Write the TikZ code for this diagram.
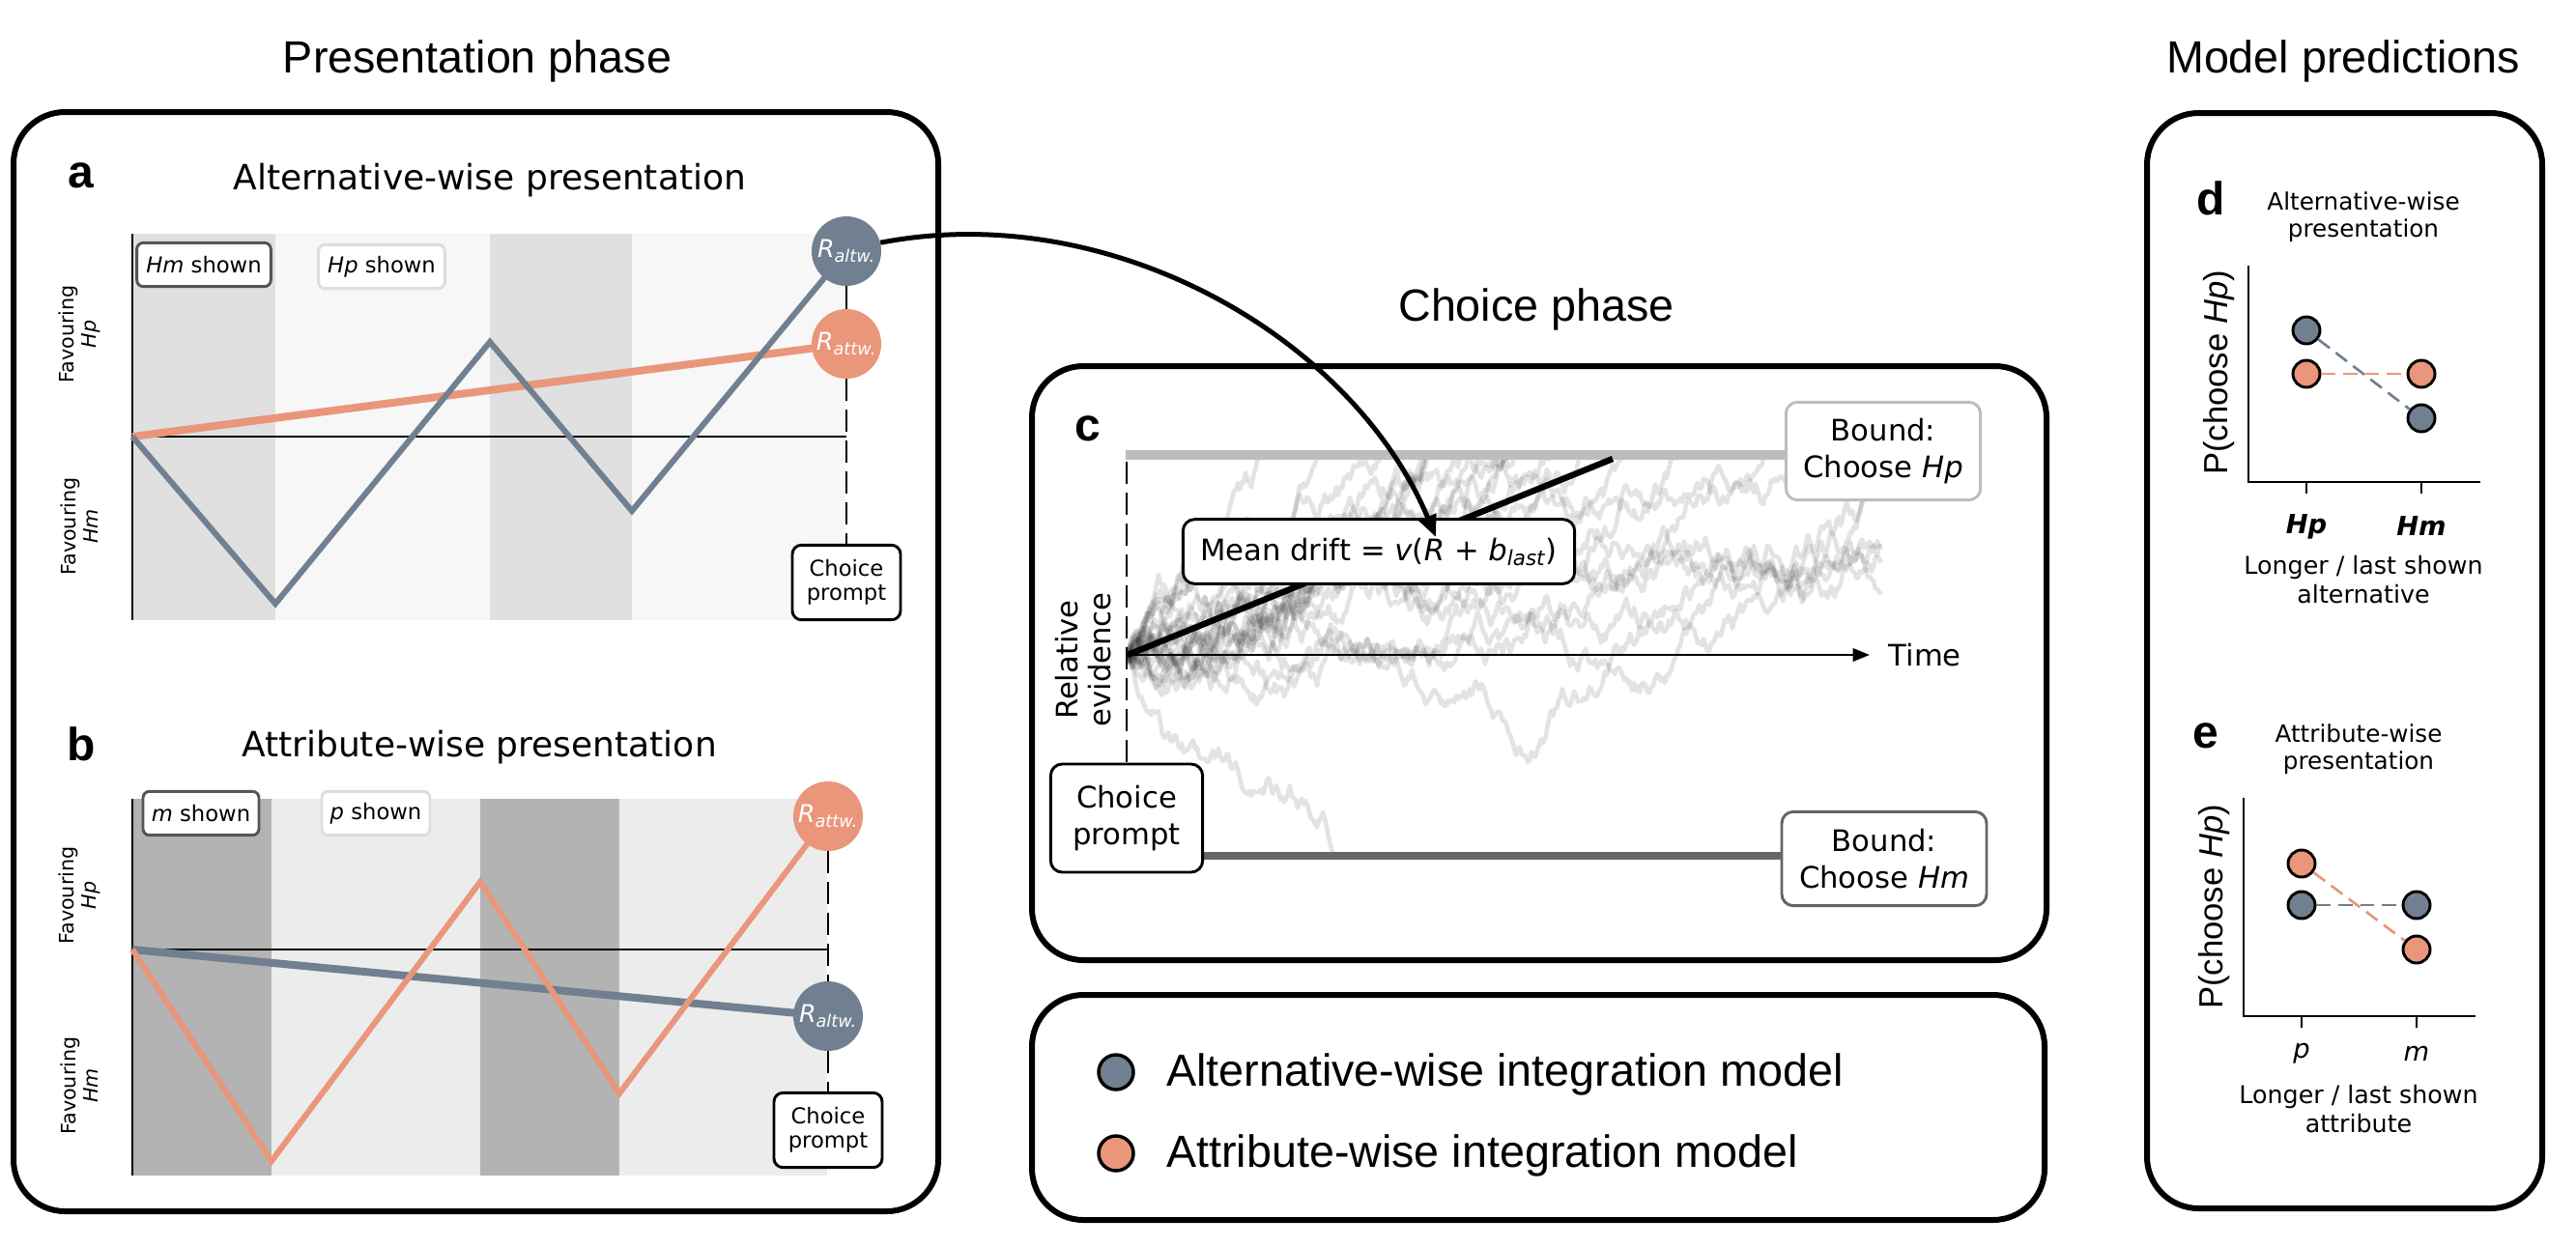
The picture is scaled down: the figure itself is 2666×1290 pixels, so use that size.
\documentclass[tikz,border=0pt]{standalone}
\usepackage{fontspec}
\setmainfont{Liberation Sans}
\newfontfamily\dv{DejaVu Sans}
\usetikzlibrary{arrows.meta}
\definecolor{slate}{HTML}{708090}
\definecolor{salmon}{HTML}{E9967A}
\definecolor{bandA}{HTML}{E0E0E0}
\definecolor{bandAl}{HTML}{F7F7F7}
\definecolor{bandB}{HTML}{B3B3B3}
\definecolor{bandBl}{HTML}{ECECEC}
\definecolor{edgedark}{HTML}{555555}
\definecolor{edgelight}{HTML}{DDDDDD}
\definecolor{boundtop}{HTML}{BDBDBD}
\definecolor{boundbot}{HTML}{666666}
\newcount\wn
\newcommand\walk[3]{%
  \pgfmathsetseed{#1}%
  \def\wx{0}\def\wy{0}\def\wpath{(0,0)}%
  \wn=0
  \loop
    \pgfmathsetmacro\wx{\wx+2}%
    \pgfmathsetmacro\wy{\wy+#2+10*rand}%
    \ifdim\wy pt<-205pt \def\wy{-205}\wn=100000 \fi
    \ifdim\wy pt>206pt \def\wy{206}\wn=100000 \fi
    \edef\wpath{\wpath--(\wx,\wy)}%
    \advance\wn by 1
  \ifnum\wn<#3 \repeat
  \draw[trace] \wpath;
}
\begin{document}
\begin{tikzpicture}[x=0.75pt,y=-0.75pt,
  outer/.style={draw=black,line width=4.5pt,rounded corners=40pt},
  phasetitle/.style={font=\fontsize{35}{40}\selectfont},
  plabel/.style={font=\fontsize{36}{40}\selectfont\bfseries},
  ptitle/.style={font=\dv\fontsize{27}{32}\selectfont},
  shownbox/.style={draw,fill=white,rounded corners=5pt,line width=2.2pt,font=\dv\fontsize{17}{20}\selectfont,minimum height=34pt,inner sep=3pt},
  cpbox/.style={draw=black,fill=white,rounded corners=7pt,line width=2.2pt,align=center,font=\dv\fontsize{17}{19}\selectfont,inner sep=2pt,minimum width=84pt,minimum height=58pt},
  rcirc/.style={circle,minimum size=54pt,inner sep=0pt,text=white,font=\dv\fontsize{19}{22}\selectfont\itshape},
  favlab/.style={rotate=90,align=center,font=\dv\fontsize{15.5}{17}\selectfont},
  zeroline/.style={black,line width=1.1pt},
  axisline/.style={black,line width=1.5pt},
  vdash/.style={black,line width=2.2pt,dash pattern=on 17pt off 7pt},
  zig/.style={line width=4.5pt,line join=miter},
  straight/.style={line width=6pt},
  trace/.style={draw=black,opacity=0.11,line width=3.4pt,line join=round},
  cbox/.style={draw,fill=white,rounded corners=9pt,line width=2.2pt,align=center,font=\dv\fontsize{23}{28}\selectfont,inner sep=4pt},
  ctext/.style={font=\dv\fontsize{23}{26}\selectfont},
  dtitle/.style={align=center,font=\dv\fontsize{18.5}{21}\selectfont},
  dxlab/.style={align=center,font=\dv\fontsize{19}{22.5}\selectfont},
  dtick/.style={font=\dv\fontsize{20.5}{23}\selectfont},
  dylab/.style={rotate=90,font=\fontsize{26}{30}\selectfont},
  dpt/.style={circle,draw=black,line width=2.2pt,minimum size=21pt,inner sep=0pt},
  ddash/.style={line width=2pt,dash pattern=on 11pt off 6pt},
  legpt/.style={circle,draw=black,line width=2.6pt,minimum size=27pt,inner sep=0pt},
  legtext/.style={anchor=west,inner sep=0pt,font=\fontsize{35}{40}\selectfont},
]
\useasboundingbox (0,0) rectangle (2666,1290);
\fill[white] (0,0) rectangle (2666,1290);

% ---------------- titles
\node[phasetitle] (tpres) at (494,63) {Presentation phase};
\node[phasetitle] (tchoice) at (1590,320) {Choice phase};
\node[phasetitle] (tmodel) at (2425,63) {Model predictions};

% ---------------- outer boxes
\draw[outer] (14,116) rectangle (971,1254);
\draw[outer] (1068,379) rectangle (2118,994);
\draw[outer] (1068,1030) rectangle (2116,1263);
\draw[outer] (2222,117) rectangle (2631,1251);

% ================= panel a
\node[plabel] (la) at (84,182) {a};
\node[ptitle] (ta) at (507,187) {Alternative-wise presentation};
\fill[bandA] (137,242) rectangle (285,642);
\fill[bandAl] (285,242) rectangle (507,642);
\fill[bandA] (507,242) rectangle (654,642);
\fill[bandAl] (654,242) rectangle (875,642);
\draw[zeroline] (137,452) -- (876,452);
\draw[axisline] (137,242) -- (137,642);
\coordinate (raC) at (876,260);
\coordinate (rtC) at (876,356);
\draw[straight,salmon] (137,452) -- (rtC);
\draw[zig,slate] (137,452) -- (285,625) -- (507,354) -- (654,529) -- (raC);
\node[cpbox] (cpa) at (876,603) {Choice\\prompt};
\node[rcirc,fill=slate] (ra) at (raC) {R\textsubscript{altw.}};
\node[rcirc,fill=salmon] (rt) at (rtC) {R\textsubscript{attw.}};
\draw[black,line width=2.2pt] (ra.south) -- (rt.north);
\draw[vdash] (rt.south) -- (cpa.north);
\node[shownbox,draw=edgedark,minimum width=104pt] (hms) at (211,274) {\textit{Hm} shown};
\node[shownbox,draw=edgelight,minimum width=98pt] (hps) at (395,276) {\textit{Hp} shown};
\node[favlab] (fa1) at (82,346) {Favouring\\\textit{Hp}};
\node[favlab] (fa2) at (82,545) {Favouring\\\textit{Hm}};

% ================= panel b
\node[plabel] (lb) at (84,770) {b};
\node[ptitle] (tb) at (496,774) {Attribute-wise presentation};
\fill[bandB] (137,827) rectangle (281,1217);
\fill[bandBl] (281,827) rectangle (497,1217);
\fill[bandB] (497,827) rectangle (641,1217);
\fill[bandBl] (641,827) rectangle (856,1217);
\draw[zeroline] (137,983) -- (857,983);
\draw[axisline] (137,827) -- (137,1217);
\coordinate (rt2C) at (857,845);
\coordinate (ra2C) at (857,1052);
\draw[straight,slate] (137,983) -- (ra2C);
\draw[zig,salmon] (137,983) -- (281,1202) -- (497,913) -- (641,1132) -- (rt2C);
\node[cpbox] (cpb) at (857,1170) {Choice\\prompt};
\node[rcirc,fill=salmon] (rt2) at (rt2C) {R\textsubscript{attw.}};
\node[rcirc,fill=slate] (ra2) at (ra2C) {R\textsubscript{altw.}};
\draw[vdash] (rt2.south) -- (ra2.north);
\draw[vdash] (ra2.south) -- (cpb.north);
\node[shownbox,draw=edgedark,minimum width=90pt] (mss) at (208,842) {\textit{m} shown};
\node[shownbox,draw=edgelight,minimum width=84pt] (pss) at (389,842) {\textit{p} shown};
\node[favlab] (fb1) at (82,927) {Favouring\\\textit{Hp}};
\node[favlab] (fb2) at (82,1124) {Favouring\\\textit{Hm}};

% ================= panel c
\node[plabel] (lc) at (1126,444) {c};
\coordinate (origin) at (1167,678);
\begin{scope}[shift={(1167,678)}]
\walk{101}{-1.0}{390}
\walk{138}{-0.8}{390}
\walk{175}{-1.2}{390}
\walk{212}{-1.4}{390}
\walk{249}{-0.7}{390}
\walk{286}{-0.9}{390}
\walk{323}{-0.4}{390}
\walk{360}{-1.6}{390}
\walk{397}{-0.85}{390}
\walk{434}{-0.2}{390}
\walk{471}{-1.1}{390}
\walk{508}{-0.6}{390}
\walk{545}{2.6}{390}
\walk{582}{-0.5}{390}
\walk{619}{-1.8}{390}
\walk{656}{-0.75}{390}
\walk{693}{-0.55}{390}
\walk{730}{-0.3}{390}
\walk{767}{-1.05}{390}
\walk{804}{-0.65}{390}
\walk{841}{-1.3}{390}
\walk{878}{-0.45}{390}
\walk{915}{-0.95}{390}
\walk{952}{-0.15}{390}
\end{scope}
\node[cbox,draw=boundtop,minimum width=151pt,minimum height=76pt] (bhp) at (1949,467) {Bound:\\Choose \textit{Hp}};
\node[cbox,draw=boundbot,minimum width=159pt,minimum height=73pt] (bhm) at (1950,889) {Bound:\\Choose \textit{Hm}};
\coordinate (bt) at (1165,471);
\coordinate (bb) at (1200,886);
\draw[boundtop,line width=7.5pt] (bt) -- (bt -| bhp.west);
\draw[boundbot,line width=6pt] (bb) -- (bb -| bhm.west);
\coordinate (timeend) at (1935,678);
\draw[black,line width=1.9pt,-{Triangle[length=13pt,width=10pt]}] (origin) -- (timeend);
\node[ctext,anchor=west] (timelab) at (1950,678) {Time};
\coordinate (driftend) at (1669,475);
\draw[black,line width=4.8pt] (origin) -- (driftend);
\node[cbox,draw=black,minimum width=304pt,minimum height=50pt,inner sep=2pt] (mdrift) at (1427,571) {Mean drift = \textit{v}(\textit{R} + \textit{b}\textsubscript{\textit{last}})};
\node[cbox,draw=black,minimum width=118pt,minimum height=84pt] (cpc) at (1166,847) {Choice\\prompt};
\coordinate (vtop) at (1166,478);
\draw[vdash] (vtop) -- (cpc.north);
\node[ctext,rotate=90,align=center,font=\dv\fontsize{23}{26}\selectfont] (relev) at (1121,683) {Relative\\evidence};

% ================= legend
\node[legpt,fill=slate] (lg1) at (1155,1110) {};
\node[legpt,fill=salmon] (lg2) at (1155,1194) {};
\node[legtext] (lt1) at (1207,1112) {Alternative-wise integration model};
\node[legtext] (lt2) at (1207,1196) {Attribute-wise integration model};

% ================= panel d
\node[plabel] (ld) at (2288,205) {d};
\node[dtitle] (td) at (2446,225) {Alternative-wise\\presentation};
\draw[black,line width=2.2pt] (2327,275) -- (2327,499) -- (2567,499);
\draw[black,line width=2.2pt] (2387,499) -- (2387,511);
\draw[black,line width=2.2pt] (2506,499) -- (2506,511);
\node[dpt,fill=slate] (d1g) at (2387,342) {};
\node[dpt,fill=salmon] (d1o) at (2387,387) {};
\node[dpt,fill=salmon] (d2o) at (2506,387) {};
\node[dpt,fill=slate] (d2g) at (2506,433) {};
\draw[ddash,slate] (d1g) -- (d2g);
\draw[ddash,salmon] (d1o) -- (d2o);
\node[dtick] (tkd1) at (2387,545) {\bfseries\itshape Hp};
\node[dtick] (tkd2) at (2506,545) {\bfseries\itshape Hm};
\node[dxlab] (xd) at (2446,600) {Longer / last shown\\alternative};
\node[dylab] (yd) at (2297,386) {P(choose \textit{Hp})};

% ================= panel e
\node[plabel] (le) at (2283,762) {e};
\node[dtitle] (te) at (2441,776) {Attribute-wise\\presentation};
\draw[black,line width=2.2pt] (2322,826) -- (2322,1052) -- (2562,1052);
\draw[black,line width=2.2pt] (2382,1052) -- (2382,1064);
\draw[black,line width=2.2pt] (2501,1052) -- (2501,1064);
\node[dpt,fill=salmon] (e1o) at (2382,894) {};
\node[dpt,fill=slate] (e1g) at (2382,937) {};
\node[dpt,fill=slate] (e2g) at (2501,937) {};
\node[dpt,fill=salmon] (e2o) at (2501,983) {};
\draw[ddash,slate] (e1g) -- (e2g);
\draw[ddash,salmon] (e1o) -- (e2o);
\node[dtick] (tke1) at (2382,1091) {\itshape p};
\node[dtick] (tke2) at (2501,1091) {\itshape m};
\node[dxlab] (xe) at (2441,1148) {Longer / last shown\\attribute};
\node[dylab] (ye) at (2292,939) {P(choose \textit{Hp})};

% ================= connector arrow
\coordinate (drifttip) at (1486,556);
\draw[black,line width=3.75pt,-{Triangle[length=17pt,width=14pt]}] (ra.14) .. controls (1150,205) and (1400,350) .. (drifttip);
\end{tikzpicture}
\end{document}
